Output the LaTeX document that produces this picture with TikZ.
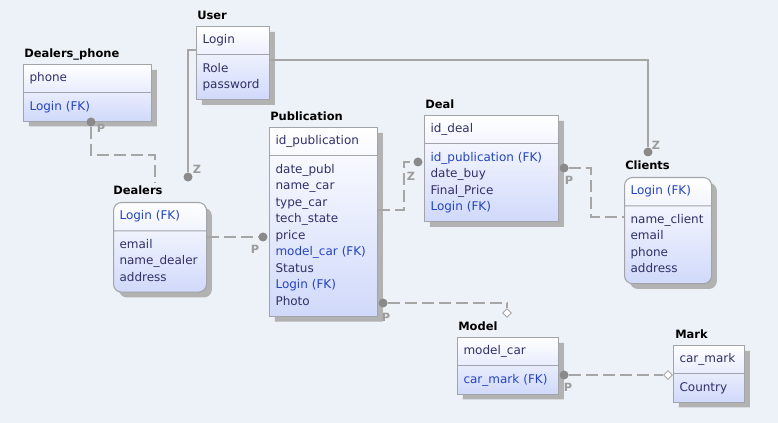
\documentclass[tikz,border=0pt]{standalone}
\usepackage{fontspec}
\setmainfont{DejaVu Sans}
\usetikzlibrary{shapes.multipart, shapes.geometric, shadows, calc}

\definecolor{bgcol}{HTML}{EDF1F8}
\definecolor{boxline}{HTML}{A2A4AA}
\definecolor{boxbot}{HTML}{D0D9FA}
\definecolor{attrcol}{HTML}{303068}
\definecolor{fkcol}{HTML}{2444C0}
\definecolor{relcol}{HTML}{A6A6A6}
\definecolor{dotcol}{HTML}{8A8A8A}

\newcommand{\fk}[1]{{\color{fkcol}#1}\color{attrcol}}

\begin{document}
\begin{tikzpicture}[
    x=0.75pt, y=-0.75pt,
    entity/.style={rectangle split, rectangle split parts=2, rectangle split part align={left},
        draw=boxline, line width=0.8pt, anchor=north west, minimum width={#1*0.75pt},
        top color=white, bottom color=boxbot, inner xsep=4.5pt, inner ysep=4pt, align=left,
        font=\fontsize{9}{12.4}\selectfont\color{attrcol}, text=attrcol,
        drop shadow={shadow xshift=4pt, shadow yshift=-4pt, fill=black!30, opacity=1}},
    ttl/.style={anchor=base west, inner sep=0pt, font=\bfseries\fontsize{8.6}{10}\selectfont},
    rel/.style={draw=relcol, line width=1pt},
    dsh/.style={line width=1.1pt, dash pattern=on 9pt off 3.75pt},
    dot/.style={circle, fill=dotcol, inner sep=0pt, minimum size=6.75pt},
    diam/.style={diamond, draw=relcol, fill=white, line width=0.7pt, inner sep=0pt, minimum size=6.75pt},
    card/.style={inner sep=0pt, text=dotcol!85, font=\bfseries\fontsize{8.5}{9}\selectfont}
]

    % Background
    \fill[bgcol] (0,0) rectangle (778,423);

    % Entities
    \node[entity=73, text width=45.75pt] (user) at (196,26) {\strut Login\nodepart{two}\strut Role\\password\strut};
    \node[entity=128, text width=87pt] (dphone) at (23,64) {\strut phone\nodepart{two}\strut\fk{Login (FK)}};
    \node[entity=108, text width=72pt] (publication) at (269,127) {\strut id\_publication\nodepart{two}\strut date\_publ\\name\_car\\type\_car\\tech\_state\\price\\\fk{model\_car (FK)}\\Status\\\fk{Login (FK)}\\Photo\strut};
    \node[entity=134, text width=91.5pt] (deal) at (424,115) {\strut id\_deal\nodepart{two}\strut\fk{id\_publication (FK)}\\date\_buy\\Final\_Price\\\fk{Login (FK)}\strut};
    \node[entity=87, text width=56.25pt, rounded corners=6pt] (clients) at (624,177) {\strut\fk{Login (FK)}\nodepart{two}\strut name\_client\\email\\phone\\address\strut};
    \node[entity=93, text width=60.75pt, rounded corners=6pt] (dealers) at (113,202) {\strut\fk{Login (FK)}\nodepart{two}\strut email\\name\_dealer\\address\strut};
    \node[entity=101, text width=66.75pt] (model) at (457,337) {\strut model\_car\nodepart{two}\strut\fk{car\_mark (FK)}};
    \node[entity=71, text width=44.25pt] (mark) at (673,345) {\strut car\_mark\nodepart{two}\strut Country};

    % Titles
    \node[ttl] (user-t) at ([shift={(1,-6)}]user.north west) {User};
    \node[ttl] (dphone-t) at ([shift={(1,-6)}]dphone.north west) {Dealers\_phone};
    \node[ttl] (publication-t) at ([shift={(1,-6)}]publication.north west) {Publication};
    \node[ttl] (deal-t) at ([shift={(1,-6)}]deal.north west) {Deal};
    \node[ttl] (clients-t) at ([shift={(1,-7)}]clients.north west) {Clients};
    \node[ttl] (dealers-t) at ([shift={(0,-7)}]dealers.north west) {Dealers};
    \node[ttl] (model-t) at ([shift={(1,-6)}]model.north west) {Model};
    \node[ttl] (mark-t) at ([shift={(2,-6)}]mark.north west) {Mark};

    % Relationship ends
    \node[dot] (z-dealers) at ([shift={(75,-25)}]dealers.north west) {};
    \node[dot] (z-clients) at ([shift={(24,-25)}]clients.north west) {};
    \node[dot] (p-dphone) at ([shift={(68,58)}]dphone.north west) {};
    \node[dot] (p-dealers) at ([shift={(-6,110)}]publication.north west) {};
    \node[dot] (z-deal) at ([shift={(-6,47)}]deal.north west) {};
    \node[dot] (p-deal) at ([shift={(5,53)}]deal.north east) {};
    \node[dot] (p-publication) at ([shift={(5,176)}]publication.north east) {};
    \node[dot] (p-model) at ([shift={(5,38)}]model.north east) {};
    \node[diam] (d-model) at ([shift={(50,-24)}]model.north west) {};
    \node[diam] (d-mark) at ([shift={(-5,30)}]mark.north west) {};

    % Cardinality letters
    \node[card] (z-dealers-l) at ([shift={(9,-8)}]z-dealers) {Z};
    \node[card] (z-clients-l) at ([shift={(8,-7)}]z-clients) {Z};
    \node[card] (p-dphone-l) at ([shift={(10,6)}]p-dphone) {P};
    \node[card] (p-dealers-l) at ([shift={(-8,12)}]p-dealers) {P};
    \node[card] (z-deal-l) at ([shift={(-7,14)}]z-deal) {Z};
    \node[card] (p-deal-l) at ([shift={(5,12)}]p-deal) {P};
    \node[card] (p-publication-l) at ([shift={(3,14)}]p-publication) {P};
    \node[card] (p-model-l) at ([shift={(4,12)}]p-model) {P};

    % Relationships
    \draw[rel] ([shift={(0,24)}]user.north west) -| (z-dealers);
    \draw[rel] ([shift={(0,34)}]user.north east) -| (z-clients);
    \draw[rel, dsh] (p-dphone) -- ++(0,33) -| ([shift={(42,-19)}]dealers.north west);
    \draw[rel, dsh] (dealers.east |- p-dealers) -- (p-dealers);
    \draw[rel, dsh] ([shift={(0,83)}]publication.north east) -- ++(26,0) |- (z-deal);
    \draw[rel, dsh] (p-deal) -- ++(27,0) |- ([shift={(0,40)}]clients.north west);
    \draw[rel, dsh] (p-publication) -| (d-model);
    \draw[rel, dsh] (p-model) -- (d-mark);

\end{tikzpicture}
\end{document}
